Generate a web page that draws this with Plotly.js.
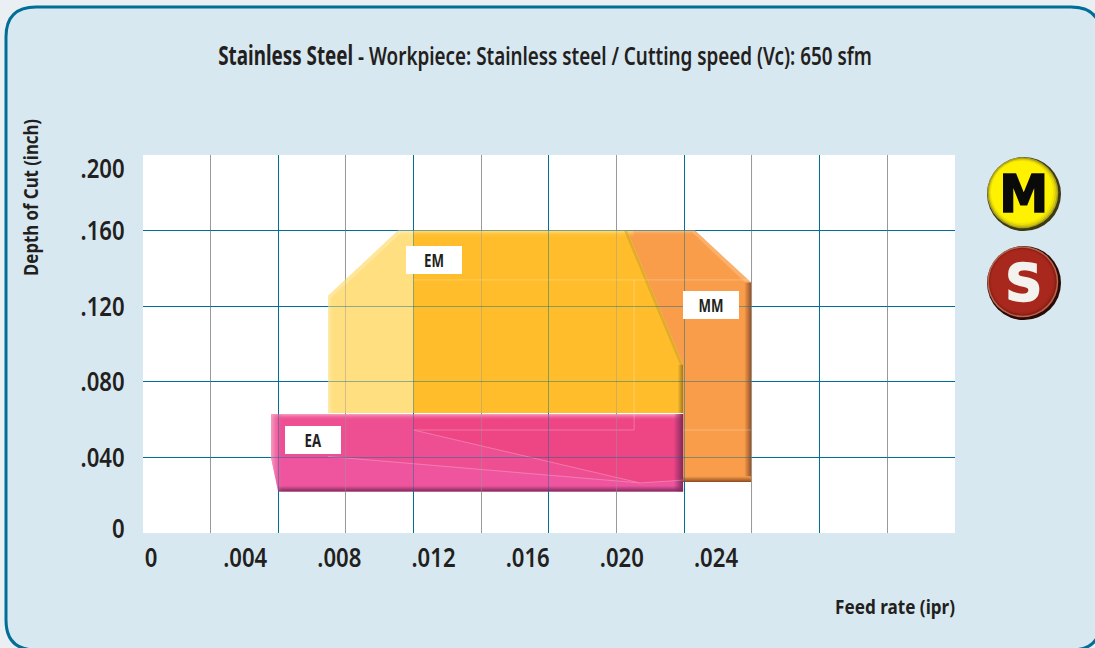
<!DOCTYPE html>
<html><head><meta charset="utf-8">
<script src="https://cdn.plot.ly/plotly-3.0.1.min.js"></script>
<style>html,body{margin:0;padding:0;background:#e9eff3;overflow:hidden}#c{width:1095px;height:648px}</style>
</head><body><div id="c"></div>
<script>
var FONT='"Noto Sans","Open Sans",sans-serif';
var TEXT='#231f20', TEAL='#006e96', GREY='#999999';

var xTickVals=[0,.004,.008,.012,.016,.020,.024];
var xTickText=['0','.004','.008','.012','.016','.020','.024'];
var yTickVals=[.0026,.04,.08,.12,.16,.1931];
var yTickText=['0','.040','.080','.120','.160','.200'];

var gridXTeal=[.005415,.01115,.016884,.022661,.028395];
var gridXGrey=[.002527,.008261,.014038,.019772,.025507,.031283];
var gridY=[.03995,.08016,.11984,.16005];

var emLightX=[.00752,.01049,.02022,.0226,.0226,.00752];
var emLightY=[.1255,.160,.160,.089,.0635,.0635];
var emDarkX=[.01115,.02022,.0226,.0226,.01115];
var emDarkY=[.160,.160,.089,.0635,.0635];
var mmX=[.02022,.02311,.02549,.02549,.0226,.0226];
var mmY=[.160,.160,.1325,.0270,.0270,.089];
var eaX=[.0051,.0226,.0226,.0054,.0051];
var eaY=[.0630,.0630,.0220,.0220,.0400];
var eaDarkX=[.01115,.0226,.0226,.02077,.01115];
var eaDarkY=[.0630,.0630,.0280,.0265,.0545];
var eaMidX=[.0051,.01115,.01115,.02077,.00752,.0051];
var eaMidY=[.0630,.0630,.0545,.0265,.0405,.0405];

var paneLinesX=[[.01115,.02549],[.01115,.02052],[.0226,.02549],[.02052,.02052],[.01115,.02077],[.00752,.02077],[.02077,.0226]];
var paneLinesY=[[.1339,.1339],[.0545,.0545],[.0545,.0545],[.1339,.0545],[.0545,.0265],[.0405,.0265],[.0265,.0280]];

var badgeSizes=[74,71,68,65,62];
var badgeShift=[0,1.2,1.2,1.6,2];
var badgeYellow=['#3e3a10','#a8a020','#d8cc0a','#f0e404','#fff200'];
var badgeRed=['#2a0907','#b5664a','#8e1f17','#a2261c','#a8281e'];

function poly(x,y,color,name){return {x:x,y:y,mode:'lines',fill:'toself',fillcolor:color,line:{width:0},hoverinfo:'skip',showlegend:false,name:name};}
function strip(x,y,dir,c0,c1){return {x:x,y:y,mode:'lines',fill:'toself',line:{width:0},hoverinfo:'skip',showlegend:false,
  fillgradient:{type:dir,colorscale:[[0,c0],[1,c1]]}};}
function lines(xs,ys,color,width,op){var X=[],Y=[];
  for(var i=0;i<xs.length;i++){X=X.concat(xs[i],[null]);Y=Y.concat(ys[i],[null]);}
  return {x:X,y:Y,mode:'lines',line:{color:color,width:width},opacity:op,hoverinfo:'skip',showlegend:false};}
var XL=-.00034,XR=.03415;
function gridTraces(op){return [
  lines(gridXGrey.map(function(v){return [v,v]}),gridXGrey.map(function(){return [0,.2]}),GREY,1,op),
  lines(gridXTeal.map(function(v){return [v,v]}),gridXTeal.map(function(){return [0,.2]}),TEAL,1,op),
  lines(gridY.map(function(){return [XL,XR]}),gridY.map(function(v){return [v,v]}),TEAL,1,op)];}
function badge(yc,cols){return badgeSizes.map(function(s,i){
  return {x:[49-badgeShift[i]],y:[yc+badgeShift[i]],xaxis:'x2',yaxis:'y2',mode:'markers',hoverinfo:'skip',showlegend:false,
    marker:{size:s,color:cols[i],line:{width:0}}};});}

var traces=[].concat(gridTraces(1),[
  poly(emLightX,emLightY,'#ffdf7f','EM'),
  poly(emDarkX,emDarkY,'#ffbd2b','EM'),
  poly(mmX,mmY,'#f99d4a','MM'),
  // bevels
  strip([.01115,.0205,.0205,.01115],[.1565,.1565,.160,.160],'vertical','rgba(255,189,43,0)','rgba(255,225,140,.9)'),
  strip([.01049,.01115,.01115,.01049],[.1565,.1565,.160,.160],'vertical','rgba(255,223,127,0)','rgba(255,240,190,.9)'),
  poly([.00752,.01049,.0106,.00765],[.1255,.160,.1585,.1243],'rgba(255,240,190,.45)','EM'),
  strip([.00752,.0078,.0078,.00752],[.0635,.0635,.1255,.1255],'horizontal','rgba(255,240,190,.7)','rgba(255,223,127,0)'),
  strip([.0205,.02311,.02311,.0205],[.1575,.1575,.160,.160],'vertical','rgba(249,157,74,0)','rgba(252,200,150,.9)'),
  poly([.02311,.02549,.02535,.023],[.160,.1325,.1313,.1588],'rgba(252,200,150,.45)','MM'),
  poly([.02022,.0226,.0226,.02247,.02009],[.160,.089,.082,.089,.160],'rgba(190,150,40,.45)','EM'),
  strip([.0252,.02549,.02549,.0252],[.0270,.0270,.1325,.1325],'horizontal','#f99d4a','#95522a'),
  strip([.02237,.0226,.0226,.02237],[.0635,.0635,.089,.089],'horizontal','#ffbd2b','#9b7a22'),
  strip([.0226,.02549,.02549,.0226],[.0270,.0270,.0300,.0300],'vertical','#8c4a20','#f99d4a'),
  poly(eaX,eaY,'#ef559f','EA'),
  poly(eaMidX,eaMidY,'#ee4f93','EA'),
  poly(eaDarkX,eaDarkY,'#ee4585','EA'),
  strip([.0051,.0226,.0226,.0051],[.0595,.0595,.0630,.0630],'vertical','rgba(238,69,133,0)','rgba(246,170,200,.95)'),
  strip([.0054,.0226,.0226,.0054],[.0220,.0220,.0250,.0250],'vertical','#7e2a5c','rgba(126,42,92,0)'),
  strip([.0222,.0226,.0226,.0222],[.0220,.0220,.0630,.0630],'horizontal','rgba(126,42,92,0)','#7e2a5c'),
  strip([.0051,.0056,.0056,.0054,.0051],[.0630,.0630,.0220,.0220,.0400],'horizontal','rgba(246,170,200,.9)','rgba(238,79,147,0)'),
  lines(paneLinesX,paneLinesY,'#ffffff',1,.25)
],gridTraces(.45),badge(127,badgeYellow),badge(38,badgeRed));

var W=952,H=378;
function px(p){return (p-143)/W;} function py(p){return (533-p)/H;}
function roundRect(x0,y0,x1,y1,r){
  var a=px(x0),b=px(x1),c=py(y0),d=py(y1),rx=r/W,ry=r/H;
  return 'M '+(a+rx)+','+c+' L '+(b-rx)+','+c+' Q '+b+','+c+' '+b+','+(c-ry)+
         ' L '+b+','+(d+ry)+' Q '+b+','+d+' '+(b-rx)+','+d+
         ' L '+(a+rx)+','+d+' Q '+a+','+d+' '+a+','+(d+ry)+
         ' L '+a+','+(c-ry)+' Q '+a+','+c+' '+(a+rx)+','+c+' Z';
}
var layout={
  width:1095,height:648,autosize:false,showlegend:false,
  margin:{l:143,r:0,t:155,b:115,pad:0},
  paper_bgcolor:'#e9eff3',plot_bgcolor:'rgba(0,0,0,0)',
  font:{family:FONT,color:TEXT},
  title:{text:'<b>Stainless Steel</b> - Workpiece: Stainless steel / Cutting speed (Vc): 650 sfm',
    font:{family:FONT,size:26,weight:600,color:TEXT},x:545/1095,xanchor:'center',y:1-55.5/648,yanchor:'middle'},
  xaxis:{domain:[0,812/952],range:[XL,XR],tickmode:'array',tickvals:xTickVals,ticktext:xTickText,showgrid:false,zeroline:false,showline:false,
    ticks:'outside',ticklen:1,tickcolor:'rgba(0,0,0,0)',tickfont:{family:FONT,size:27,weight:600,color:TEXT},fixedrange:true},
  yaxis:{range:[0,.2],tickmode:'array',tickvals:yTickVals,ticktext:yTickText,showgrid:false,zeroline:false,showline:false,
    ticks:'outside',ticklen:12,tickcolor:'rgba(0,0,0,0)',tickfont:{family:FONT,size:27,weight:600,color:TEXT},fixedrange:true},
  xaxis2:{domain:[px(975),px(1070)],range:[0,95],anchor:'y2',visible:false,fixedrange:true},
  yaxis2:{domain:[py(321),py(155)],range:[0,166],anchor:'x2',visible:false,fixedrange:true},
  shapes:[
    {type:'path',xref:'paper',yref:'paper',layer:'below',path:roundRect(6,7,1101,650,30),fillcolor:'#d8e8f1',line:{color:TEAL,width:3}},
    {type:'rect',xref:'paper',yref:'paper',layer:'below',x0:0,x1:812/952,y0:0,y1:1,fillcolor:'#ffffff',line:{width:0}}
  ],
  annotations:[
    {text:'<b>Depth of Cut (inch)</b>',xref:'paper',yref:'paper',x:px(30),y:py(198),textangle:-90,showarrow:false,font:{family:FONT,size:20,color:TEXT},xanchor:'center',yanchor:'middle'},
    {text:'<b>Feed rate (ipr)</b>',xref:'paper',yref:'paper',x:px(895),y:py(606),showarrow:false,font:{family:FONT,size:20,color:TEXT},xanchor:'center',yanchor:'middle'},
    {text:'<b>EM</b>',x:.01202,y:.1444,showarrow:false,bgcolor:'#ffffff',width:56,height:28,borderpad:0,borderwidth:0,font:{family:FONT,size:18,color:TEXT}},
    {text:'<b>MM</b>',x:.02379,y:.1206,showarrow:false,bgcolor:'#ffffff',width:56,height:28,borderpad:0,borderwidth:0,font:{family:FONT,size:18,color:TEXT}},
    {text:'<b>EA</b>',x:.00688,y:.0492,showarrow:false,bgcolor:'#ffffff',width:56,height:28,borderpad:0,borderwidth:0,font:{family:FONT,size:18,color:TEXT}},
    {text:'<b>M</b>',xref:'x2',yref:'y2',x:48.5,y:127,showarrow:false,font:{family:'"DejaVu Sans",sans-serif',size:52,color:'#0a0a0a'}},
    {text:'<b>S</b>',xref:'x2',yref:'y2',x:48.5,y:38,showarrow:false,font:{family:'"DejaVu Sans",sans-serif',size:52,color:'#f4f2ee'}}
  ]
};

function squeeze(el,k){
  var b=el.getBBox(), end=el.getAttribute('text-anchor')==='end';
  var cx=end?b.x+b.width:b.x+b.width/2, cy=b.y+b.height/2, t=el.getAttribute('transform')||'';
  el.setAttribute('transform',t+' translate('+cx+','+cy+') scale('+k+',1) translate('+(-cx)+','+(-cy)+')');
}
var targets={'Depth of Cut (inch)':157,'Feed rate (ipr)':120,'EM':20,'MM':25,'EA':17,'M':49,'S':37};
Plotly.newPlot('c',traces,layout,{displayModeBar:false,staticPlot:true}).then(function(){
  var r=document.querySelector('#c');
  r.querySelectorAll('.xtick text,.ytick text').forEach(function(t){squeeze(t,.82);});
  var g=r.querySelector('.gtitle'); if(g) squeeze(g,654/g.getBBox().width);
  r.querySelectorAll('.annotation-text').forEach(function(t){
    var s=t.textContent, w=targets[s]; if(w) squeeze(t,w/t.getBBox().width);
    if(s==='M'||s==='S'){t.style.stroke=s==='M'?'#0a0a0a':'#f4f2ee';t.style.strokeWidth='1.6px';}
  });
});
</script></body></html>
